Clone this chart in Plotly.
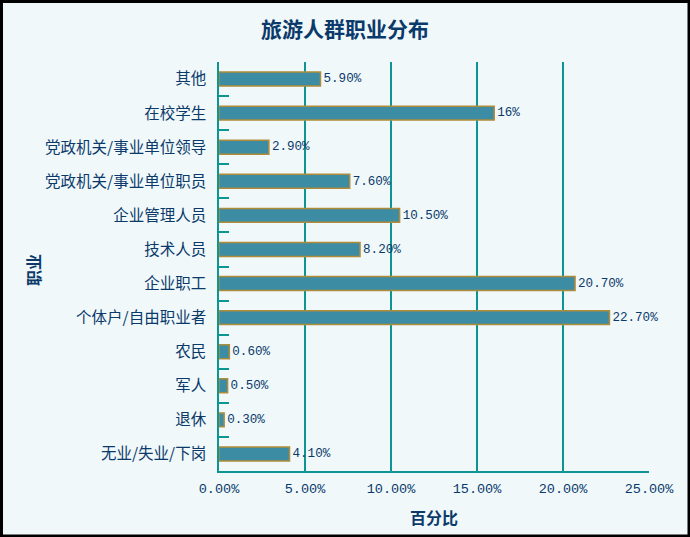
import plotly.graph_objects as go

categories = ["其他", "在校学生", "党政机关/事业单位领导", "党政机关/事业单位职员", "企业管理人员",
              "技术人员", "企业职工", "个体户/自由职业者", "农民", "军人", "退休", "无业/失业/下岗"]
values = [0.059, 0.16, 0.029, 0.076, 0.105, 0.082, 0.207, 0.227, 0.006, 0.005, 0.003, 0.041]
labels = ["5.90%", "16%", "2.90%", "7.60%", "10.50%", "8.20%", "20.70%", "22.70%",
          "0.60%", "0.50%", "0.30%", "4.10%"]
x_ticks = [0, 0.05, 0.10, 0.15, 0.20, 0.25]

W, H = 690, 537
L, R, T, B = 219, 649, 62, 471
navy = "#0b3a6a"
teal = "#0c9592"
bg = "#f0f8fa"
cjk = "Noto Sans CJK SC"
mono = "Liberation Mono, Noto Sans CJK SC"

def px(xp):
    return (xp - L) / (R - L)

def py(yp):
    return (B - yp) / (B - T)

fig = go.Figure(go.Bar(
    y=categories, x=values, orientation="h",
    marker=dict(color="#3c8da3", line=dict(color="#b08c3a", width=1.5)),
    text=labels, textposition="outside", cliponaxis=False,
    textfont=dict(family=mono, size=13.5, color=navy),
))

fig.update_layout(
    width=W, height=H,
    margin=dict(l=L, r=W - R, t=T, b=H - B),
    paper_bgcolor=bg, plot_bgcolor="rgba(0,0,0,0)",
    bargap=0.59,
    showlegend=False,
    title=dict(text="<b>旅游人群职业分布</b>", x=0.5, xanchor="center", y=1 - 30 / H, yanchor="middle",
               font=dict(family=cjk, size=21, color=navy)),
    xaxis=dict(range=[0, 0.25], tickvals=x_ticks, tickformat=".2%",
               showline=True, linecolor=teal, linewidth=1.5, mirror=False,
               showgrid=True, gridcolor=teal, gridwidth=1.5, zeroline=False,
               ticks="", ticklabelstandoff=4,
               tickfont=dict(family=mono, size=13.5, color=navy), fixedrange=True),
    yaxis=dict(categoryorder="array", categoryarray=categories, autorange="reversed",
               showline=True, linecolor=teal, linewidth=1.5,
               ticks="inside", tickson="boundaries", ticklen=10, tickcolor=teal, tickwidth=1.5,
               showgrid=False, tickfont=dict(family=cjk, size=15.5, color=navy), ticklabelstandoff=8),
    annotations=[
        dict(text="<b>百分比</b>", x=0.5, y=py(517), xref="paper", yref="paper",
             showarrow=False, font=dict(family=cjk, size=16, color=navy), xanchor="center", yanchor="middle"),
        dict(text="<b>职业</b>", x=px(33), y=py(270), xref="paper", yref="paper", textangle=-90,
             showarrow=False, font=dict(family=cjk, size=16, color=navy), xanchor="center", yanchor="middle"),
    ],
    shapes=[
        dict(type="rect", xref="paper", yref="paper", x0=px(1.5), x1=px(689), y0=py(536), y1=py(1.5),
             line=dict(color="black", width=3), fillcolor="rgba(0,0,0,0)", layer="above"),
    ],
)

fig.write_html("out.html")
